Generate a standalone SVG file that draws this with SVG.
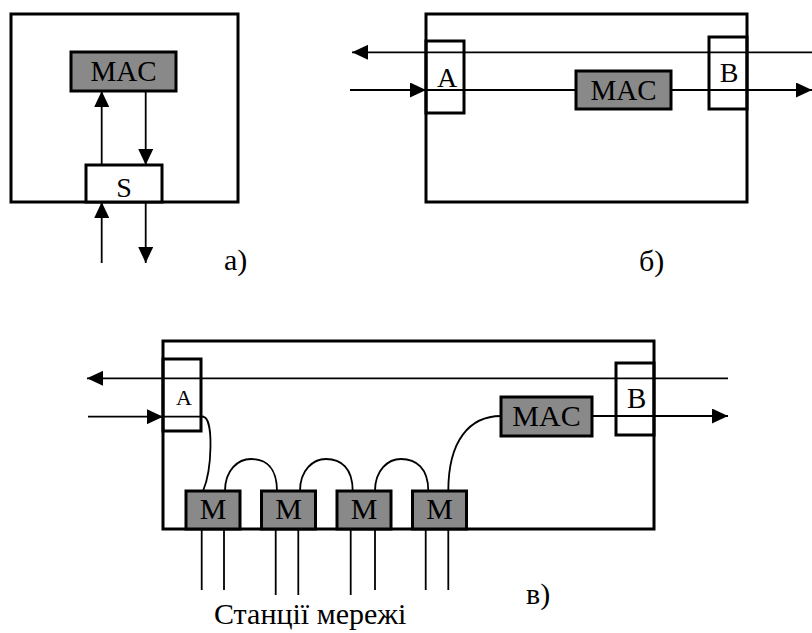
<svg xmlns="http://www.w3.org/2000/svg" width="812" height="633" viewBox="0 0 812 633">
<defs>
<style>
.frame{fill:none;stroke:#000;stroke-width:3}
.box{fill:#fff;stroke:#000;stroke-width:3}
.port{fill:none;stroke:#000;stroke-width:3}
.gray{fill:#898989;stroke:#000;stroke-width:3}
.ln{fill:none;stroke:#000;stroke-width:1.8}
.arr{fill:none;stroke:#000;stroke-width:1.8;marker-end:url(#ah)}
text{font-family:'Liberation Serif','DejaVu Serif',serif;fill:#000}
.t{text-anchor:middle}
.lbl{font-size:30px}
</style>
<marker id="ah" viewBox="0 0 16 15" refX="16" refY="7.5" markerWidth="16" markerHeight="15" markerUnits="userSpaceOnUse" orient="auto">
<path d="M0,0 L16,7.5 L0,15 Z" fill="#000"/>
</marker>
</defs>
<rect width="812" height="633" fill="#fff"/>

<!-- Panel a -->
<g id="frame-a"><rect class="frame" x="11" y="14" width="227" height="188"/></g>
<g id="connectors-a">
<line class="arr" x1="101.7" y1="165" x2="101.7" y2="91"/>
<line class="arr" x1="145.7" y1="91" x2="145.7" y2="165"/>
<line class="arr" x1="101.7" y1="263" x2="101.7" y2="202"/>
<line class="arr" x1="145.7" y1="202" x2="145.7" y2="263"/>
</g>
<g id="mac-a"><rect class="gray" x="71" y="52" width="105" height="39"/><text class="t" x="123.5" y="80.5" font-size="29">MAC</text></g>
<g id="s-a"><rect class="box" x="86" y="165" width="76" height="37"/><text class="t" x="124" y="197" font-size="28">S</text></g>
<text class="lbl" x="224" y="270">а)</text>

<!-- Panel b -->
<g id="frame-b"><rect class="frame" x="426" y="14" width="321" height="188"/></g>
<g id="connectors-b">
<line class="arr" x1="812" y1="52.3" x2="352" y2="52.3"/>
<line class="arr" x1="350" y1="90" x2="426" y2="90"/>
<line class="ln" x1="426" y1="90" x2="576" y2="90"/>
<line class="arr" x1="671" y1="90" x2="812" y2="90"/>
</g>
<g id="a-b"><rect class="port" x="426" y="41" width="38" height="72"/><text class="t" x="447" y="86.5" font-size="28">A</text></g>
<g id="b-b"><rect class="port" x="709" y="37" width="38" height="72"/><text class="t" x="729" y="81.5" font-size="28">B</text></g>
<g id="mac-b"><rect class="gray" x="576" y="71" width="95" height="38"/><text class="t" x="623.5" y="99.5" font-size="29">MAC</text></g>
<text class="lbl" x="639" y="271">б)</text>

<!-- Panel c -->
<g id="frame-c"><rect class="frame" x="163" y="341" width="491" height="188"/></g>
<g id="connectors-c">
<line class="arr" x1="728" y1="378.3" x2="87" y2="378.3"/>
<line class="arr" x1="88" y1="416.7" x2="163" y2="416.7"/>
<line class="ln" x1="163" y1="416.7" x2="204" y2="416.7"/>
<path class="ln" d="M203,416.7 C214,418 212,470 203,491"/>
<path class="ln" d="M225,491 C225,470 238,459 251,459 C266,459 277,468 277,491"/>
<path class="ln" d="M300,491 C300,470 313,459 326,459 C341,459 352.7,468 352.7,491"/>
<path class="ln" d="M375,491 C375,470 388,459 401,459 C416,459 428.3,468 428.3,491"/>
<path class="ln" d="M448.3,491 C448.3,440 470,416 501,416"/>
<line class="arr" x1="592" y1="416" x2="728" y2="416"/>
<line class="ln" x1="201.7" y1="529" x2="201.7" y2="590"/>
<line class="ln" x1="224" y1="529" x2="224" y2="590"/>
<line class="ln" x1="275.7" y1="529" x2="275.7" y2="595"/>
<line class="ln" x1="298.3" y1="529" x2="298.3" y2="595"/>
<line class="ln" x1="350.7" y1="529" x2="350.7" y2="595"/>
<line class="ln" x1="375" y1="529" x2="375" y2="590"/>
<line class="ln" x1="425.7" y1="529" x2="425.7" y2="590"/>
<line class="ln" x1="448.3" y1="529" x2="448.3" y2="590"/>
</g>
<g id="a-c"><rect class="port" x="163" y="359" width="38" height="72"/><text class="t" x="184" y="405" font-size="22">A</text></g>
<g id="b-c"><rect class="port" x="616" y="363" width="38" height="72"/><text class="t" x="636.7" y="408" font-size="29">B</text></g>
<g id="mac-c"><rect class="gray" x="501" y="397" width="91" height="39"/><text class="t" x="546.5" y="425.5" font-size="30">MAC</text></g>
<g id="m1"><rect class="gray" x="186" y="491" width="54" height="38"/><text class="t" x="213" y="518.5" font-size="30">M</text></g>
<g id="m2"><rect class="gray" x="261.5" y="491" width="54" height="38"/><text class="t" x="288.5" y="518.5" font-size="30">M</text></g>
<g id="m3"><rect class="gray" x="337" y="491" width="54" height="38"/><text class="t" x="364" y="518.5" font-size="30">M</text></g>
<g id="m4"><rect class="gray" x="412.5" y="491" width="54" height="38"/><text class="t" x="439.5" y="518.5" font-size="30">M</text></g>
<text class="lbl" x="526" y="604">в)</text>
<text class="lbl" x="214" y="624">Станції мережі</text>
</svg>
